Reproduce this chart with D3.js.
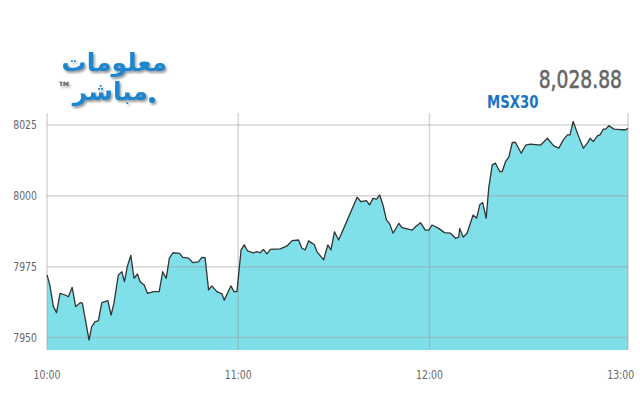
<!DOCTYPE html>
<html>
<head>
<meta charset="utf-8">
<script src="https://cdn.jsdelivr.net/npm/d3@7"></script>
<style>
  body { margin: 0; background: #fff; }
  svg { display: block; }
  .tick-label { font-family: "DejaVu Sans", sans-serif; font-size: 12px; fill: #666; }
</style>
</head>
<body>
<div id="chart"></div>
<script>
// minutes after 10:00 and index level
var minutes = [0, 0.9, 2.0, 3.0, 4.1, 5.7, 6.7, 7.9, 9.0, 10.4, 11.1, 13.2, 14.0, 15.1, 16.1, 17.2, 19.1, 20.1, 21.0,
    22.4, 23.5, 24.3, 25.2, 26.3, 27.3, 28.4, 29.2, 30.5, 31.5, 33.4, 35.2, 36.3, 37.4, 38.4, 39.5, 41.6, 42.6, 44.4,
    45.8, 47.5, 48.6, 49.6, 50.7, 51.7, 53.3, 54.9, 55.6, 57.7, 58.7, 59.6, 60.9, 61.9, 62.9, 64.8, 65.9, 66.9, 67.9,
    69.0, 70.1, 73.2, 75.3, 76.9, 78.9, 80.0, 81.0, 82.1, 83.9, 84.7, 86.8, 88.1, 89.1, 90.2, 91.5, 93.1, 97.3, 98.5,
    100.2, 101.2, 102.3, 103.4, 104.4, 105.5, 106.5, 107.5, 108.6, 110.4, 111.4, 114.6, 115.6, 117.2, 118.7, 119.8,
    120.8, 122.9, 124.7, 126.6, 128.2, 129.2, 129.5, 130.6, 131.8, 133.7, 134.8, 135.8, 136.7, 137.8, 138.6, 139.7,
    140.7, 142.1, 142.8, 143.9, 144.9, 146.0, 147.0, 148.8, 150.2, 151.7, 154.9, 157.0, 159.0, 160.6, 162.0, 163.3,
    164.1, 165.1, 166.4, 168.3, 169.5, 170.4, 171.4, 172.7, 173.5, 174.6, 175.3, 176.3, 177.9, 180.0, 181.6, 182.3];
var values = [7972.1, 7968.5, 7960.9, 7958.8, 7965.6, 7965.0, 7964.4, 7967.7, 7960.9, 7962.3, 7962.1, 7949.1, 7953.8,
    7955.6, 7955.9, 7962.3, 7963.0, 7957.9, 7962.1, 7972.1, 7973.2, 7969.7, 7975.0, 7979.0, 7970.9, 7972.4, 7969.7,
    7968.5, 7965.6, 7966.2, 7966.2, 7973.2, 7970.9, 7978.0, 7979.9, 7979.7, 7978.3, 7978.0, 7976.4, 7976.7, 7978.3,
    7978.2, 7966.8, 7968.2, 7966.2, 7965.4, 7963.2, 7968.2, 7966.2, 7966.2, 7980.9, 7982.7, 7980.6, 7979.9, 7980.3,
    7979.9, 7981.1, 7979.5, 7981.1, 7981.3, 7982.3, 7984.2, 7984.4, 7981.5, 7980.9, 7984.1, 7982.7, 7980.3, 7977.4,
    7982.7, 7980.9, 7987.3, 7984.4, 7988.5, 7999.5, 7997.9, 7998.3, 7996.8, 7999.1, 7998.8, 8000.3, 7996.4, 7991.5,
    7990.1, 7986.8, 7990.3, 7988.8, 7987.9, 7989.1, 7990.5, 7987.9, 7987.9, 7989.7, 7988.5, 7987.0, 7986.8, 7985.0,
    7985.4, 7988.5, 7985.4, 7986.8, 7993.2, 7992.1, 7996.8, 7997.6, 7992.1, 8002.7, 8010.9, 8011.5, 8008.5, 8008.5,
    8012.1, 8013.6, 8018.8, 8018.8, 8015.0, 8017.9, 8018.2, 8017.9, 8020.3, 8017.6, 8016.8, 8019.7, 8021.5, 8021.5,
    8026.2, 8022.1, 8016.8, 8018.5, 8020.3, 8019.1, 8021.1, 8021.5, 8023.5, 8023.5, 8024.7, 8023.5, 8023.3, 8023.3,
    8023.8];
var xTicks = ["10:00", "11:00", "12:00", "13:00"];
var yTicks = [7950, 7975, 8000, 8025];
var indexName = "MSX30";
var lastValue = "8,028.88";

var width = 640,
    height = 400;
var plotLeft = 47, plotRight = 628, plotTop = 113, plotBottom = 350;
var narrow = 0.78; // fake condensed font

var parseTime = d3.timeParse("%H:%M");
var start = parseTime("10:00");

var data = minutes.map(function (m, i) {
    return { t: new Date(start.getTime() + m * 60000), v: values[i] };
});

var svg = d3.select("#chart").append("svg").attr("width", width).attr("height", height);

var x = d3.scaleTime()
    .domain([start, new Date(start.getTime() + 182.3 * 60000)])
    .range([plotLeft, plotRight]);
var y = d3.scaleLinear().domain([7945.6, 8029.2]).range([plotBottom, plotTop]);

var area = d3.area()
    .x(d => x(d.t))
    .y0(plotBottom)
    .y1(d => y(d.v));
var line = d3.line()
    .x(d => x(d.t))
    .y(d => y(d.v));

svg.append("path").datum(data)
    .attr("d", area)
    .attr("fill", "#80e0e9");

// grid on top of the area
var grid = svg.append("g").attr("stroke", "rgba(150,150,150,0.4)").attr("stroke-width", 1.5);
grid.selectAll(".hgrid").data(yTicks).join("line")
    .attr("x1", plotLeft).attr("x2", plotRight)
    .attr("y1", d => y(d)).attr("y2", d => y(d));
grid.selectAll(".vgrid").data(xTicks.slice(1, 3)).join("line")
    .attr("x1", d => x(parseTime(d))).attr("x2", d => x(parseTime(d)))
    .attr("y1", plotTop).attr("y2", plotBottom);
grid.append("line").attr("x1", plotLeft).attr("x2", plotLeft).attr("y1", plotTop).attr("y2", plotBottom);
grid.append("line").attr("x1", plotRight).attr("x2", plotRight).attr("y1", plotTop).attr("y2", plotBottom);

svg.append("path").datum(data)
    .attr("d", line)
    .attr("fill", "none")
    .attr("stroke", "#333")
    .attr("stroke-width", 1.3)
    .attr("stroke-linejoin", "round");

svg.append("g").selectAll("text").data(yTicks).join("text")
    .attr("class", "tick-label")
    .attr("transform", d => "translate(37," + y(d) + ") scale(" + narrow + ",1)")
    .attr("dy", "0.35em")
    .attr("text-anchor", "end")
    .text(d => d);

svg.append("g").selectAll("text").data(xTicks).join("text")
    .attr("class", "tick-label")
    .attr("transform", d => "translate(" + x(parseTime(d)) + ",379) scale(" + narrow + ",1)")
    .attr("text-anchor", "middle")
    .text(d => d);

svg.append("text")
    .attr("transform", "translate(622,88) scale(" + narrow + ",1)")
    .attr("text-anchor", "end")
    .style("font-family", "'DejaVu Sans', sans-serif")
    .style("font-size", "24px")
    .attr("fill", "#666")
    .attr("stroke", "#666")
    .attr("stroke-width", 0.6)
    .text(lastValue);

svg.append("text")
    .attr("transform", "translate(487,108) scale(" + narrow + ",1)")
    .style("font-family", "'DejaVu Sans', sans-serif")
    .style("font-size", "17px")
    .style("font-weight", "bold")
    .attr("fill", "#1a74c4")
    .text(indexName);

// logo
var defs = svg.append("defs");
var f = defs.append("filter").attr("id", "shadow").attr("x", "-10%").attr("y", "-10%").attr("width", "130%").attr("height", "140%");
f.append("feDropShadow").attr("dx", 1.5).attr("dy", 2).attr("stdDeviation", 1).attr("flood-color", "#555").attr("flood-opacity", 0.6);

var logo = svg.append("g").attr("filter", "url(#shadow)")
    .style("font-family", "'DejaVu Sans', sans-serif")
    .style("font-weight", "bold")
    .attr("fill", "#1f86cf");
logo.append("text").attr("x", 167).attr("y", 71).attr("text-anchor", "end")
    .style("font-size", "25px").text("معلومات");
logo.append("text").attr("x", 148).attr("y", 100).attr("text-anchor", "end")
    .style("font-size", "25px").text("مباشر");
logo.append("circle").attr("cx", 152).attr("cy", 100).attr("r", 3);
logo.append("text").attr("x", 59).attr("y", 86)
    .style("font-size", "6px").attr("fill", "#555").text("TM");
</script>
</body>
</html>
